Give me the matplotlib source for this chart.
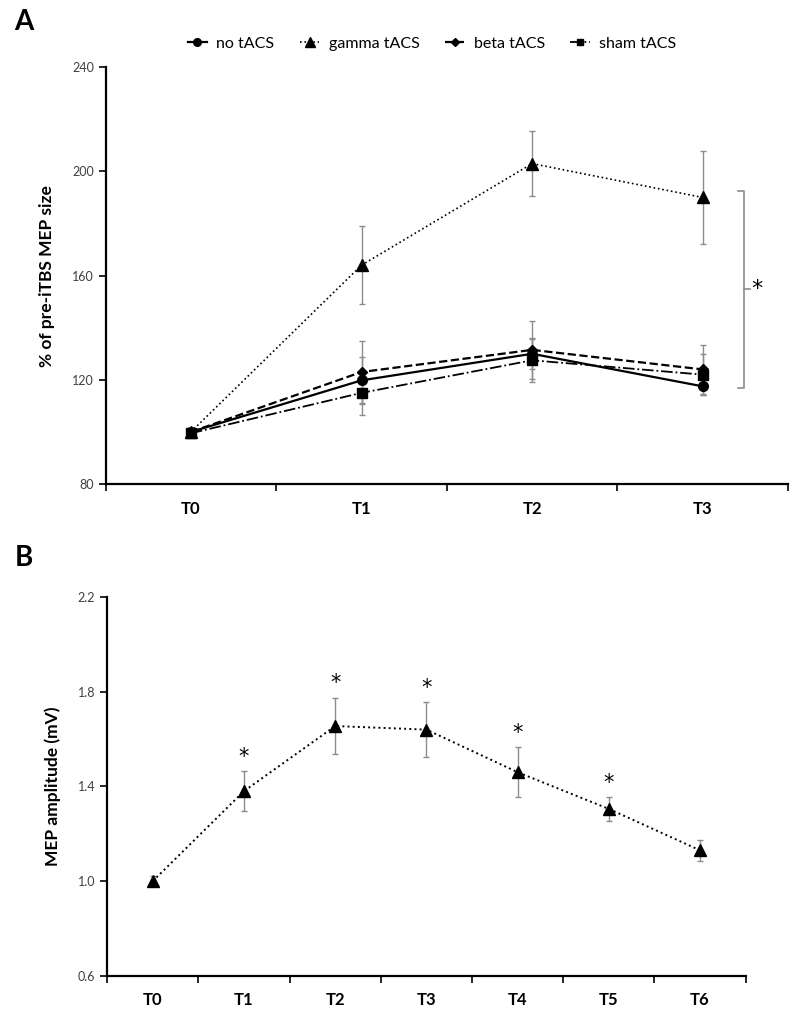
import numpy as np
import matplotlib.pyplot as plt
from matplotlib.lines import Line2D
from matplotlib.ticker import FixedLocator, FormatStrFormatter

plt.rcParams['font.family'] = ['Lato', 'DejaVu Sans']

# panel A data
times_a = ["T0", "T1", "T2", "T3"]
no_tacs = [100, 119.8, 130, 117.5]
no_tacs_err = [1.5, 9, 6, 3.5]
gamma_tacs = [100, 164, 203, 190]
gamma_tacs_err = [1.5, 15, 12.5, 18]
beta_tacs = [100, 123, 131.5, 124]
beta_tacs_err = [1.5, 12, 11, 9.5]
sham_tacs = [99.5, 115, 127.5, 122]
sham_tacs_err = [1.5, 8.5, 8.2, 8]

# panel B data
times_b = ["T0", "T1", "T2", "T3", "T4", "T5", "T6"]
mep_amp = [1.0, 1.38, 1.655, 1.64, 1.46, 1.305, 1.13]
mep_err = [0.02, 0.085, 0.12, 0.115, 0.105, 0.05, 0.045]
signif_b = [False, True, True, True, True, True, False]

err_col = "#8c8c8c"
tick_col = "#404040"

fig = plt.figure(figsize=(8, 10.18), dpi=100)
ax1 = fig.add_axes([0.132, 0.5245, 0.853, 0.4095])
ax2 = fig.add_axes([0.134, 0.0415, 0.798, 0.372])

series = [
    ("no tACS", no_tacs, no_tacs_err, "-", "o", 7, 1.6),
    ("gamma tACS", gamma_tacs, gamma_tacs_err, ":", "^", 8, 1.2),
    ("beta tACS", beta_tacs, beta_tacs_err, "--", "D", 5.5, 1.6),
    ("sham tACS", sham_tacs, sham_tacs_err, "-.", "s", 6.5, 1.3),
]

xa = np.arange(len(times_a))
handles = []
for name, vals, errs, ls, mk, ms, lw in series:
    ax1.errorbar(xa, vals, yerr=errs, fmt="none", ecolor=err_col, elinewidth=1,
                 capsize=2, capthick=1, zorder=2)
    ax1.plot(xa, vals, color="black", linestyle=ls, linewidth=lw, marker=mk,
             markersize=ms, zorder=3)
    handles.append(Line2D([], [], color="black", linestyle=ls, linewidth=lw,
                          marker=mk, markersize=ms - 1.5))

xb = np.arange(len(times_b))
ax2.errorbar(xb, mep_amp, yerr=mep_err, fmt="none", ecolor=err_col, elinewidth=1,
             capsize=2, capthick=1, zorder=2)
ax2.plot(xb, mep_amp, color="black", linestyle=":", linewidth=1.4, marker="^",
         markersize=8, zorder=3)
for i, s in enumerate(signif_b):
    if s:
        ax2.annotate("*", (xb[i], mep_amp[i] + mep_err[i]), xytext=(0, 3),
                     textcoords="offset points", ha="center", va="bottom",
                     fontsize=15, fontfamily="DejaVu Sans")


def style_axis(ax, labels):
    n = len(labels)
    ax.set_xlim(-0.5, n - 0.5)
    ax.set_xticks(np.arange(n))
    ax.set_xticklabels(labels, fontsize=12, fontweight="bold")
    ax.xaxis.set_minor_locator(FixedLocator(np.arange(n + 1) - 0.5))
    ax.tick_params(axis="x", which="major", length=0, pad=12)
    ax.tick_params(axis="x", which="minor", length=5, width=1.2, direction="out")
    ax.tick_params(axis="y", length=5, width=1.2, labelsize=9, labelcolor=tick_col)
    for side in ["top", "right"]:
        ax.spines[side].set_visible(False)
    for side in ["left", "bottom"]:
        ax.spines[side].set_linewidth(1.6)


style_axis(ax1, times_a)
ax1.set_ylim(80, 240)
ax1.set_yticks([80, 120, 160, 200, 240])
ax1.set_ylabel("% of pre-iTBS MEP size", fontsize=12.5, fontweight="bold", labelpad=12)

style_axis(ax2, times_b)
ax2.set_ylim(0.6, 2.2)
ax2.set_yticks([0.6, 1.0, 1.4, 1.8, 2.2])
ax2.yaxis.set_major_formatter(FormatStrFormatter("%.1f"))
ax2.set_ylabel("MEP amplitude (mV)", fontsize=12.5, fontweight="bold", labelpad=12)

# significance bracket, panel A
bx, by0, by1 = 3.24, 117, 192.5
arm = 0.035
ax1.plot([bx - arm, bx, bx, bx - arm], [by0, by0, by1, by1], color=err_col,
         linewidth=1.2, clip_on=False)
ax1.plot([bx, bx + arm], [155, 155], color=err_col, linewidth=1.2, clip_on=False)
ax1.text(bx + 0.08, 155, "*", fontsize=16, ha="center", va="center",
         fontfamily="DejaVu Sans")

fig.legend(handles, [s[0] for s in series], loc="center", bbox_to_anchor=(0.54, 0.957),
           ncol=4, frameon=False, fontsize=11.5, handlelength=1.2, columnspacing=1.6,
           handletextpad=0.6)

fig.text(0.018, 0.978, "A", fontsize=20, fontweight="bold", va="center")
fig.text(0.018, 0.452, "B", fontsize=20, fontweight="bold", va="center")

fig.savefig("out.png", dpi=100)
